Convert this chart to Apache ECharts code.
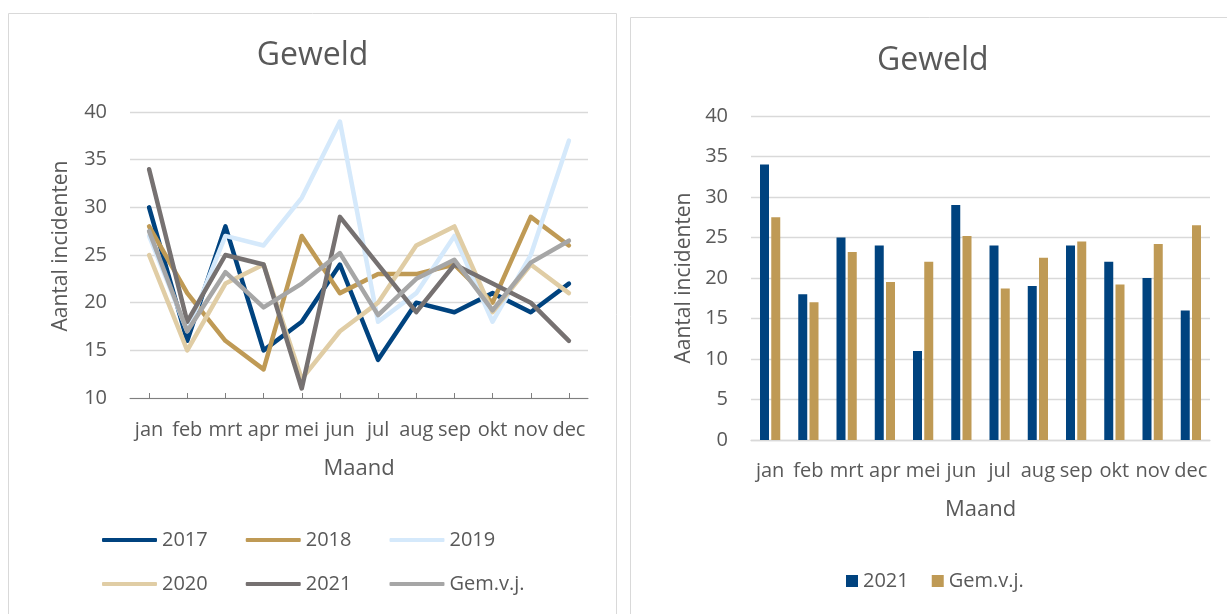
<!DOCTYPE html>
<html>
<head>
<meta charset="utf-8">
<script src="https://cdn.jsdelivr.net/npm/echarts@6/dist/echarts.min.js"></script>
<style>
html,body{margin:0;padding:0;background:#fff;width:1227px;height:614px;overflow:hidden;}
#left{position:absolute;left:0;top:0;width:625px;height:614px;}
#right{position:absolute;left:625px;top:0;width:602px;height:614px;}
</style>
</head>
<body>
<div id="left"></div>
<div id="right"></div>
<script>
// ---- data ----
var months = ['jan','feb','mrt','apr','mei','jun','jul','aug','sep','okt','nov','dec'];
var y2017 = [30,16,28,15,18,24,14,20,19,21,19,22];
var y2018 = [28,21,16,13,27,21,23,23,24,20,29,26];
var y2019 = [27,17,27,26,31,39,18,21,27,18,25,37];
var y2020 = [25,15,22,24,12,17,20,26,28,19,24,21];
var y2021 = [34,18,25,24,11,29,24,19,24,22,20,16];
var gemVj = [27.5,17,23.2,19.5,22,25.2,18.7,22.5,24.5,19.2,24.2,26.5];
var lineTicksLeft = {min:10, max:40, interval:5};
var barTicksRight = {min:0, max:40, interval:5};

var FONT = 'Open Sans';
var TXT = '#595959';
var GRID = '#D9D9D9';

function lineSeries(name, data, color){
  return {
    name: name, type: 'line', data: data, symbol: 'none',
    lineStyle: {color: color, width: 4.5, cap: 'round', join: 'round'},
    itemStyle: {color: color}, animation: false
  };
}

var left = echarts.init(document.getElementById('left'), null, {renderer:'canvas'});
left.setOption({
  animation: false,
  textStyle: {fontFamily: FONT},
  graphic: [{
    type: 'rect', shape: {x: 8.5, y: 13.5, width: 608, height: 620},
    style: {fill: 'none', stroke: GRID, lineWidth: 1}, silent: true
  }],
  title: {
    text: 'Geweld', left: 'center', top: 40, padding: 0,
    textStyle: {fontFamily: FONT, fontSize: 32, fontWeight: 'normal', color: TXT}
  },
  legend: [{
    data: ['2017','2018','2019'], left: 102, top: 530, padding: 0,
    icon: 'roundRect', itemWidth: 55, itemHeight: 4, itemGap: 38,
    textStyle: {fontFamily: FONT, fontSize: 20, color: TXT}, selectedMode: false
  },{
    data: ['2020','2021','Gem.v.j.'], left: 102, top: 574, padding: 0,
    icon: 'roundRect', itemWidth: 55, itemHeight: 4, itemGap: 38,
    textStyle: {fontFamily: FONT, fontSize: 20, color: TXT}, selectedMode: false
  }],
  grid: {left: 130, top: 112, width: 458, height: 286},
  xAxis: {
    type: 'category', data: months, boundaryGap: true,
    name: 'Maand', nameLocation: 'middle', nameGap: 60,
    nameTextStyle: {fontFamily: FONT, fontSize: 22, color: TXT},
    axisLine: {lineStyle: {color: '#7F7F7F', width: 1}},
    axisTick: {show: true, alignWithLabel: true, inside: true, length: 5, lineStyle: {color: '#7F7F7F'}},
    axisLabel: {fontFamily: FONT, fontSize: 20, color: TXT, margin: 22, interval: 0}
  },
  yAxis: {
    type: 'value', min: lineTicksLeft.min, max: lineTicksLeft.max, interval: lineTicksLeft.interval,
    name: 'Aantal incidenten', nameLocation: 'middle', nameGap: 58,
    nameTextStyle: {fontFamily: FONT, fontSize: 21, color: TXT, padding: [0,0,0,18]},
    axisLine: {show: false}, axisTick: {show: false},
    splitLine: {lineStyle: {color: GRID, width: 1.3}},
    axisLabel: {fontFamily: FONT, fontSize: 20, color: TXT, margin: 23}
  },
  series: [
    lineSeries('2017', y2017, '#00437F'),
    lineSeries('2018', y2018, '#BF9A55'),
    lineSeries('2019', y2019, '#D5E9FB'),
    lineSeries('2020', y2020, '#E0CDA5'),
    lineSeries('2021', y2021, '#767171'),
    lineSeries('Gem.v.j.', gemVj, '#A6A6A6')
  ]
});

var right = echarts.init(document.getElementById('right'), null, {renderer:'canvas'});
right.setOption({
  animation: false,
  textStyle: {fontFamily: FONT},
  graphic: [{
    type: 'rect', shape: {x: 5.5, y: 17.5, width: 620, height: 620},
    style: {fill: 'none', stroke: GRID, lineWidth: 1}, silent: true
  }],
  title: {
    text: 'Geweld', left: 252, top: 45, padding: 0,
    textStyle: {fontFamily: FONT, fontSize: 32, fontWeight: 'normal', color: TXT}
  },
  legend: {
    data: ['2021','Gem.v.j.'], left: 221, top: 571, padding: 0,
    icon: 'rect', itemWidth: 12, itemHeight: 12, itemGap: 23,
    textStyle: {fontFamily: FONT, fontSize: 20, color: TXT}, selectedMode: false
  },
  grid: {left: 126, top: 116, width: 459, height: 324},
  xAxis: {
    type: 'category', data: months, boundaryGap: true,
    name: 'Maand', nameLocation: 'middle', nameGap: 59,
    nameTextStyle: {fontFamily: FONT, fontSize: 22, color: TXT},
    axisLine: {lineStyle: {color: GRID, width: 1.3}},
    axisTick: {show: false},
    axisLabel: {fontFamily: FONT, fontSize: 20, color: TXT, margin: 21, interval: 0}
  },
  yAxis: {
    type: 'value', min: barTicksRight.min, max: barTicksRight.max, interval: barTicksRight.interval,
    name: 'Aantal incidenten', nameLocation: 'middle', nameGap: 56,
    nameTextStyle: {fontFamily: FONT, fontSize: 21, color: TXT},
    axisLine: {show: false}, axisTick: {show: false},
    splitLine: {lineStyle: {color: GRID, width: 1.3}},
    axisLabel: {fontFamily: FONT, fontSize: 20, color: TXT, margin: 23}
  },
  series: [
    {name: '2021', type: 'bar', data: y2021, barWidth: 9, barGap: '25%',
     itemStyle: {color: '#00437F'}},
    {name: 'Gem.v.j.', type: 'bar', data: gemVj, barWidth: 9, barGap: '25%',
     itemStyle: {color: '#BF9A55'}}
  ]
});
</script>
</body>
</html>
